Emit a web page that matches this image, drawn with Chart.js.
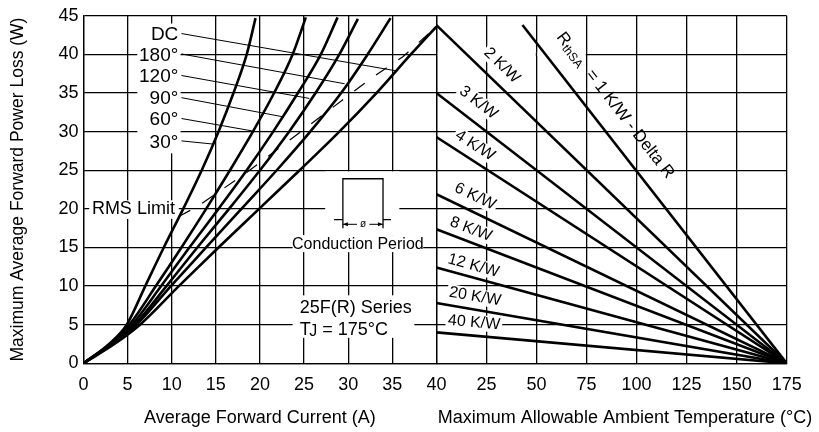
<!DOCTYPE html>
<html><head><meta charset="utf-8">
<script src="https://cdn.jsdelivr.net/npm/chart.js@4.4.0/dist/chart.umd.min.js"></script>
<style>html,body{margin:0;padding:0;background:#fff;overflow:hidden}canvas{display:block}</style>
</head><body>
<canvas id="c" width="819" height="432" style="width:819px;height:432px"></canvas>
<script>
// ---------------- data ----------------
const currentTickStep = 5;          // A
const tempTickStep = 25;            // °C
const lossTickStep = 5;             // W

const angleLabels = ['30°', '60°', '90°', '120°', '180°', 'DC'];
const current30  = [0, 2.9, 4.9, 7.0, 9.1, 11.3, 13.4, 15.3, 17.0, 18.5, 19.5];
const loss30     = [0, 2.5, 5, 10, 15, 20, 25, 30, 35, 40, 44.7];
const current60  = [0, 3.0, 5.2, 8.2, 11.1, 13.9, 16.6, 19.2, 21.6, 23.7, 25.2];
const loss60     = [0, 2.5, 5, 10, 15, 20, 25, 30, 35, 40, 44.8];
const current90  = [0, 3.1, 5.5, 8.8, 12.0, 15.3, 18.5, 21.5, 24.3, 26.9, 28.8];
const loss90     = [0, 2.5, 5, 10, 15, 20, 25, 30, 35, 40, 44.8];
const current120 = [0, 3.2, 5.8, 9.4, 12.9, 16.5, 20.0, 23.3, 26.3, 29.0, 31.1];
const loss120    = [0, 2.5, 5, 10, 15, 20, 25, 30, 35, 40, 44.6];
const current180 = [0, 3.3, 6.0, 9.9, 13.9, 17.9, 21.9, 25.7, 29.2, 32.2, 34.8];
const loss180    = [0, 2.5, 5, 10, 15, 20, 25, 30, 35, 40, 44.7];
const currentDC  = [0, 3.5, 6.4, 10.8, 15.3, 19.9, 24.5, 29.0, 33.2, 37.1, 40.0];
const lossDC     = [0, 2.5, 5, 10, 15, 20, 25, 30, 35, 40, 43.6];

const rmsCurrent = [10.8, 12.9, 15.7, 18.6, 24.4, 32.6, 36.2, 40.0];
const rmsLoss    = [19.0, 20.3, 22.5, 24.8, 29.8, 36.9, 39.7, 43.6];

const sinkLabels    = ['1 K/W', '2 K/W', '3 K/W', '4 K/W', '6 K/W', '8 K/W', '12 K/W', '20 K/W', '40 K/W'];
const sinkStartTemp = [43, 0, 0, 0, 0, 0, 0, 0, 0];
const sinkStartLoss = [43.8, 43.8, 35.0, 29.3, 21.9, 17.35, 12.4, 7.8, 4.0];
const sinkEndTemp   = [175, 175, 175, 175, 175, 175, 175, 175, 175];
const sinkEndLoss   = [0, 0, 0, 0, 0, 0, 0, 0, 0];

// ---------------- annotation layout (not data) ----------------
const annot = {
  angleTextLoss:   [28.6, 31.5, 34.2, 37.07, 39.86, 42.5],
  angleLeaderEndA: [14.6, 19.1, 22.7, 25.6, 29.6, 35.3],
  angleLeaderEndW: [28.4, 30.1, 31.9, 34.3, 36.2, 37.9],
  sinkLabelTemp:   [89.3, 32.7, 21.0, 19.3, 19.3, 17.2, 18.5, 19.3, 18.8],
  sinkLabelLoss:   [33.4, 38.57, 33.76, 28.2, 21.6, 17.36, 12.64, 8.65, 5.27]
};

const FF = '"Liberation Sans", Arial, Helvetica, sans-serif';
const fnt = s => s + 'px ' + FF;

const pts = (xs, ys) => xs.map((x, i) => ({x, y: ys[i]}));
const curveSets = [
  [current30, loss30], [current60, loss60], [current90, loss90],
  [current120, loss120], [current180, loss180], [currentDC, lossDC]
];
const datasets = [];
curveSets.forEach((c, i) => datasets.push({
  label: angleLabels[i], xAxisID: 'xA', data: pts(c[0], c[1]),
  borderColor: '#000', borderWidth: 2.6, pointRadius: 0,
  cubicInterpolationMode: 'monotone', fill: false
}));
datasets.push({
  label: 'RMS Limit', xAxisID: 'xA', data: pts(rmsCurrent, rmsLoss),
  borderColor: '#000', borderWidth: 1.2, borderDash: [13, 14], pointRadius: 0, tension: 0
});
sinkLabels.forEach((l, i) => datasets.push({
  label: l, xAxisID: 'xT',
  data: [{x: sinkStartTemp[i], y: sinkStartLoss[i]}, {x: sinkEndTemp[i], y: sinkEndLoss[i]}],
  borderColor: '#000', borderWidth: 2.6, pointRadius: 0, tension: 0
}));

const deco = {
  id: 'deco',
  beforeDatasetsDraw(chart) {
    const {ctx, scales: {xA, xT, y}} = chart;
    const X = v => xA.getPixelForValue(v), T = v => xT.getPixelForValue(v), Y = v => y.getPixelForValue(v);
    ctx.save();
    ctx.fillStyle = '#fff';
    const rect = (x1, y1, x2, y2) => ctx.fillRect(Math.min(x1, x2), Math.min(y1, y2), Math.abs(x2 - x1), Math.abs(y2 - y1));
    rect(X(6.1), Y(44.0), X(11.0), Y(27.2));            // angle label column
    rect(X(0.65), Y(21.1), X(10.8), Y(18.7));           // RMS Limit
    rect(X(27.4), Y(24.85), X(35.8), Y(16.6));          // conduction icon
    rect(X(23.7), Y(16.6), X(38.5), Y(14.4));           // Conduction Period text
    rect(X(23.7), Y(8.8), X(37.5), Y(3.3));             // series text
    // missing grid segment in right panel at 40 W
    rect(T(0) + 1.2, Y(40) - 1.6, T(75) - 0.8, Y(40) + 1.6);
    ctx.fillStyle = '#000';
    [25, 50].forEach(t => ctx.fillRect(T(t) - 0.65, Y(40) - 1.7, 1.3, 3.4));
    // rotated label backgrounds
    ctx.font = fnt(16);
    sinkLabels.forEach((l, i) => {
      if (i === 0) return;
      const ang = Math.atan2(Y(sinkEndLoss[i]) - Y(sinkStartLoss[i]), T(sinkEndTemp[i]) - T(sinkStartTemp[i]));
      const w = ctx.measureText(l).width + 4;
      ctx.save();
      ctx.translate(T(annot.sinkLabelTemp[i]), Y(annot.sinkLabelLoss[i]));
      ctx.rotate(ang);
      ctx.fillStyle = '#fff';
      ctx.fillRect(-w / 2, -8, w, 16);
      ctx.restore();
    });
    ctx.restore();
  },
  afterDatasetsDraw(chart) {
    const {ctx, scales: {xA, xT, y}} = chart;
    const X = v => xA.getPixelForValue(v), T = v => xT.getPixelForValue(v), Y = v => y.getPixelForValue(v);
    ctx.save();
    ctx.fillStyle = '#000'; ctx.strokeStyle = '#000';
    // angle labels + leaders
    ctx.font = fnt(19); ctx.textAlign = 'right'; ctx.textBaseline = 'middle';
    angleLabels.forEach((l, i) => {
      const w = annot.angleTextLoss[i];
      ctx.fillText(l, X(10.75), Y(w));
      ctx.lineWidth = 1;
      ctx.beginPath();
      ctx.moveTo(X(11.1), Y(w + 0.2));
      ctx.lineTo(X(annot.angleLeaderEndA[i]), Y(annot.angleLeaderEndW[i]));
      ctx.stroke();
    });
    // RMS Limit
    ctx.font = fnt(18); ctx.textAlign = 'left';
    ctx.fillText('RMS Limit', X(0.95), Y(19.93));
    // conduction icon
    ctx.lineWidth = 1.3;
    ctx.beginPath();
    ctx.moveTo(X(28.4), Y(18.6)); ctx.lineTo(X(29.4), Y(18.6)); ctx.lineTo(X(29.4), Y(23.9));
    ctx.lineTo(X(33.95), Y(23.9)); ctx.lineTo(X(33.95), Y(18.6)); ctx.lineTo(X(34.85), Y(18.6));
    ctx.moveTo(X(29.4), Y(18.6)); ctx.lineTo(X(29.4), Y(17.5));
    ctx.moveTo(X(33.95), Y(18.6)); ctx.lineTo(X(33.95), Y(17.5));
    ctx.stroke();
    const ay = Y(18.0);
    ctx.lineWidth = 1;
    ctx.beginPath();
    ctx.moveTo(X(29.4), ay); ctx.lineTo(X(31.0), ay);
    ctx.moveTo(X(32.4), ay); ctx.lineTo(X(33.95), ay);
    ctx.stroke();
    const arrow = (x, dir) => { ctx.beginPath(); ctx.moveTo(x, ay); ctx.lineTo(x - dir * 5, ay - 2); ctx.lineTo(x - dir * 5, ay + 2); ctx.closePath(); ctx.fill(); };
    arrow(X(29.4), -1); arrow(X(33.95), 1);
    ctx.font = fnt(10); ctx.textAlign = 'center';
    ctx.fillText('ø', X(31.7), ay);
    ctx.font = fnt(16);
    ctx.fillText('Conduction Period', X(31.1), Y(15.43));
    // series text
    ctx.font = fnt(18); ctx.textAlign = 'left';
    ctx.fillText('25F(R) Series', X(24.5), Y(7.2));
    let sx = X(24.5);
    ctx.fillText('T', sx, Y(4.37)); sx += ctx.measureText('T').width - 1.5;
    ctx.font = fnt(16); ctx.fillText('J', sx, Y(4.37) + 2); sx += ctx.measureText('J').width;
    ctx.font = fnt(18); ctx.fillText(' = 175°C', sx, Y(4.37));
    // heat-sink labels
    sinkLabels.forEach((l, i) => {
      const ang = Math.atan2(Y(sinkEndLoss[i]) - Y(sinkStartLoss[i]), T(sinkEndTemp[i]) - T(sinkStartTemp[i]));
      ctx.save();
      ctx.translate(T(annot.sinkLabelTemp[i]), Y(annot.sinkLabelLoss[i]));
      ctx.rotate(ang);
      ctx.textBaseline = 'middle';
      if (i === 0) {
        const parts = [['R', 17, 0], ['thSA', 12, 4], ['  = 1 K/W - Delta R', 17, 0]];
        let tw = 0;
        parts.forEach(p => { ctx.font = fnt(p[1]); tw += ctx.measureText(p[0]).width; });
        let px = -tw / 2;
        ctx.textAlign = 'left';
        parts.forEach(p => { ctx.font = fnt(p[1]); ctx.fillText(p[0], px, p[2]); px += ctx.measureText(p[0]).width; });
      } else {
        ctx.font = fnt(16); ctx.textAlign = 'center';
        ctx.fillText(l, 0, 0);
      }
      ctx.restore();
    });
    // right axis title
    ctx.font = fnt(18); ctx.textAlign = 'center'; ctx.textBaseline = 'middle';
    ctx.fillText('Maximum Allowable Ambient Temperature (°C)', 625, chart.height - 13.7);
    ctx.restore();
  }
};

const gridOpts = {color: '#000', lineWidth: 1.3, drawTicks: false};
const tickFont = {family: FF, size: 18};

new Chart(document.getElementById('c'), {
  type: 'line',
  data: {datasets},
  plugins: [deco],
  options: {
    responsive: false, animation: false, devicePixelRatio: 1,
    layout: {padding: {left: 3.5, right: 32.3, top: 13, bottom: 0}},
    plugins: {legend: {display: false}, tooltip: {enabled: false}},
    scales: {
      xA: {
        type: 'linear', position: 'bottom', stack: 'xs', stackWeight: 353,
        min: 0, max: 40,
        ticks: {stepSize: currentTickStep, color: '#000', font: tickFont, padding: 11, maxRotation: 0, autoSkip: false},
        grid: gridOpts, border: {color: '#000', width: 1.3},
        title: {display: true, text: 'Average Forward Current (A)', color: '#000', font: {family: FF, size: 18}, padding: {top: 0, bottom: 2.9}},
        afterFit: s => { s.height = 68.7; }
      },
      xT: {
        type: 'linear', position: 'bottom', stack: 'xs', stackWeight: 350.4,
        min: 0, max: 175,
        ticks: {stepSize: tempTickStep, color: '#000', font: tickFont, padding: 11, maxRotation: 0, autoSkip: false,
                callback: v => v === 0 ? '' : String(v)},
        grid: gridOpts, border: {color: '#000', width: 1.3},
        title: {display: false},
        afterFit: s => { s.height = 68.7; }
      },
      y: {
        type: 'linear', position: 'left', min: 0, max: 45,
        ticks: {stepSize: lossTickStep, color: '#000', font: tickFont, padding: 5},
        grid: gridOpts, border: {color: '#000', width: 1.3},
        title: {display: true, text: 'Maximum Average Forward Power Loss (W)', color: '#000', font: {family: FF, size: 17.5}, padding: {top: 4, bottom: 4}},
        afterFit: s => { s.width = 80; }
      }
    }
  }
});
</script>
</body></html>
